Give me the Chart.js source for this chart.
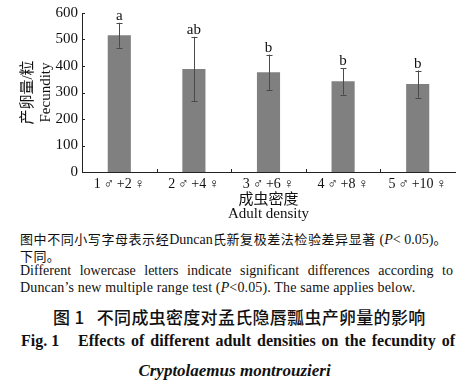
<!DOCTYPE html>
<html><head><meta charset="utf-8">
<script src="https://cdn.jsdelivr.net/npm/chart.js@4.4.0/dist/chart.umd.min.js"></script>
<style>
html,body{margin:0;padding:0;background:#fff;}
#wrap{position:relative;width:469px;height:384px;overflow:hidden;}
#cv{position:absolute;left:0;top:0;}
.t{position:absolute;white-space:nowrap;color:#111;}
.cn{font-family:"Noto Sans CJK SC","Liberation Serif",serif;}
.sr{font-family:"Liberation Serif","Noto Sans CJK SC",serif;}
</style></head>
<body><div id="wrap">
<canvas id="cv" width="469" height="224"></canvas>
<div class="t cn" style="left:20px;top:229px;font-size:13px;width:427px;text-align:justify;text-align-last:justify;letter-spacing:0.4px;">图中不同小写字母表示经<span class="sr" style="font-size:14px;letter-spacing:0">Duncan</span>氏新复极差法检验差异显著<span class="sr" style="font-size:14px;letter-spacing:0"> (<i>P</i>&lt; 0.05)</span>。</div>
<div class="t cn" style="left:20px;top:246px;font-size:13px;letter-spacing:0.4px;">下同。</div>
<div class="t sr" style="left:20px;top:263px;font-size:14px;width:433px;text-align:justify;text-align-last:justify;">Different lowercase letters indicate significant differences according to</div>
<div class="t sr" style="left:20px;top:280px;font-size:14px;letter-spacing:0.15px;">Duncan’s new multiple range test (<i>P</i>&lt;0.05). The same applies below.</div>
<div class="t cn" style="left:53px;top:304px;font-size:17px;font-weight:500;letter-spacing:0.3px;">图 1&nbsp;&nbsp;&nbsp;不同成虫密度对孟氏隐唇瓢虫产卵量的影响</div>
<div class="t sr" style="left:21px;top:332px;font-size:16px;font-weight:bold;">Fig. 1</div>
<div class="t sr" style="left:78px;top:332px;font-size:16px;font-weight:bold;width:377px;text-align:justify;text-align-last:justify;">Effects of different adult densities on the fecundity of</div>
<div class="t sr" style="left:0;width:469px;text-align:center;top:361px;font-size:17px;font-weight:bold;font-style:italic;">Cryptolaemus montrouzieri</div>
</div>
<script>
const categories = ['1\u2009♂\u2009+2\u2009♀', '2\u2009♂\u2009+4\u2009♀', '3\u2009♂\u2009+6\u2009♀', '4\u2009♂\u2009+8\u2009♀', '5\u2009♂\u2009+10\u2009♀'];
const fecundity = [516, 389, 376, 342, 332];
const errors = [47, 121, 67, 50, 51];
const letters = ['a', 'ab', 'b', 'b', 'b'];
const yTicks = [0, 100, 200, 300, 400, 500, 600];

const serif = '"Liberation Serif", "DejaVu Serif", serif';
const mixed = '"Liberation Serif", "Noto Sans CJK SC", serif';

const extras = {
  id: 'extras',
  afterDatasetsDraw(chart) {
    const ctx = chart.ctx;
    const meta = chart.getDatasetMeta(0);
    const y = chart.scales.y, x = chart.scales.x;
    ctx.save();
    ctx.strokeStyle = '#4a4a4a';
    ctx.lineWidth = 1;
    meta.data.forEach((bar, i) => {
      const px = Math.round(bar.x) + 0.5;
      const top = y.getPixelForValue(fecundity[i] + errors[i]);
      const bot = y.getPixelForValue(fecundity[i] - errors[i]);
      ctx.beginPath();
      ctx.moveTo(px, top); ctx.lineTo(px, bot);
      ctx.moveTo(px - 3, Math.round(top) + 0.5); ctx.lineTo(px + 3, Math.round(top) + 0.5);
      ctx.moveTo(px - 3, Math.round(bot) + 0.5); ctx.lineTo(px + 3, Math.round(bot) + 0.5);
      ctx.stroke();
      ctx.fillStyle = '#111';
      ctx.font = '15px ' + serif;
      ctx.textAlign = 'center';
      ctx.textBaseline = 'alphabetic';
      ctx.fillText(letters[i], bar.x, top - 3);
    });
    ctx.strokeStyle = '#222';
    ctx.beginPath();
    yTicks.forEach(v => {
      const py = Math.round(y.getPixelForValue(v)) + 0.5;
      ctx.moveTo(y.right, py); ctx.lineTo(y.right + 3, py);
    });
    for (let i = 0; i < categories.length - 1; i++) {
      const bx = Math.round((x.getPixelForValue(i) + x.getPixelForValue(i + 1)) / 2) + 0.5;
      ctx.moveTo(bx, x.top); ctx.lineTo(bx, x.top - 3);
    }
    ctx.stroke();
    ctx.restore();
  }
};

new Chart(document.getElementById('cv'), {
  type: 'bar',
  data: {
    labels: categories,
    datasets: [{
      data: fecundity,
      backgroundColor: '#808080',
      borderWidth: 0,
      barPercentage: 0.31,
      categoryPercentage: 1.0
    }]
  },
  options: {
    responsive: false,
    animation: false,
    devicePixelRatio: 1,
    layout: { padding: { top: 11, right: 14, left: 0, bottom: 0 } },
    plugins: { legend: { display: false }, tooltip: { enabled: false } },
    scales: {
      x: {
        grid: { display: false, drawTicks: false },
        border: { color: '#222', width: 1 },
        ticks: { color: '#111', font: { family: serif, size: 14 }, padding: 4, maxRotation: 0, autoSkip: false },
        title: { display: true, text: ['成虫密度', 'Adult density'], color: '#111',
                 font: { family: mixed, size: 15, lineHeight: 0.95 },
                 padding: { top: 0, bottom: 3 } },
        afterFit(s) { s.height = 52; }
      },
      y: {
        min: 0, max: 600,
        grid: { display: false, drawTicks: false },
        border: { color: '#222', width: 1 },
        ticks: { stepSize: 100, color: '#111', font: { family: serif, size: 15 }, padding: 4 },
        title: { display: true, text: ['产卵量/粒', 'Fecundity'], color: '#111',
                 font: { family: mixed, size: 15, lineHeight: 1.2 },
                 padding: { top: 19, bottom: 0 } },
        afterFit(s) { s.width = 82; }
      }
    }
  },
  plugins: [extras]
});
</script>
</body></html>
